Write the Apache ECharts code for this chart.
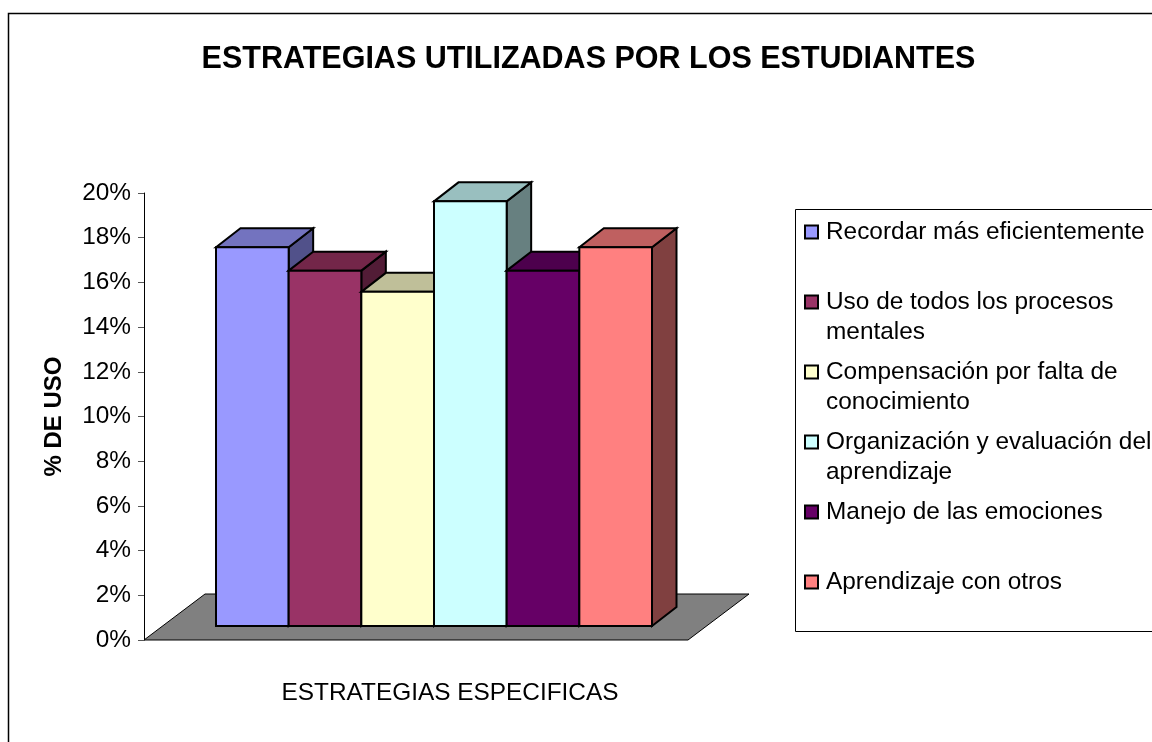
<!DOCTYPE html>
<html><head><meta charset="utf-8">
<style>html,body{margin:0;padding:0;background:#fff}#c{width:1152px;height:742px}</style>
<script src="https://cdn.jsdelivr.net/npm/echarts@6/dist/echarts.min.js"></script>
</head><body><div id="c"></div>
<script>
const chartTitle = 'ESTRATEGIAS UTILIZADAS POR LOS ESTUDIANTES';
const xTitle = 'ESTRATEGIAS ESPECIFICAS';
const yTitle = '% DE USO';
const categories = [
  'Recordar más eficientemente',
  'Uso de todos los procesos\nmentales',
  'Compensación por falta de\nconocimiento',
  'Organización y evaluación del\naprendizaje',
  'Manejo de las emociones',
  'Aprendizaje con otros'
];
const values = [16.95, 15.9, 14.95, 19, 15.9, 16.95];
const frontColors = ['#9999FF', '#993366', '#FFFFCC', '#CCFFFF', '#660066', '#FF8080'];
const topColors   = ['#7373BF', '#732649', '#BFBF99', '#99BFBF', '#4D004D', '#BF6060'];
const sideColors  = ['#51518A', '#521C36', '#8A8A6E', '#678080', '#360036', '#804040'];

const FONT = '"Liberation Sans", Arial, sans-serif';
const DX = 24.5, DY = 19, LIFT = 14;   // oblique projection of the depth axis
const LINE = {stroke: '#000', lineWidth: 2};

function poly(points, fill, line) {
  return {type: 'polygon', shape: {points}, style: Object.assign({fill}, line)};
}

function renderBar(params, api) {
  const i = api.value(0), v = api.value(1);
  const c = api.coord([i, v]), b = api.coord([i, 0]);
  const w = api.size([1, 0])[0];
  const l = c[0] - w / 2, r = c[0] + w / 2, t = c[1] - LIFT, bt = b[1] - LIFT;
  const k = params.seriesIndex - 1;
  return {type: 'group', children: [
    poly([[r, t], [r + DX, t - DY], [r + DX, bt - DY], [r, bt]], sideColors[k], LINE),
    poly([[l, t], [l + DX, t - DY], [r + DX, t - DY], [r, t]], topColors[k], LINE),
    poly([[l, t], [r, t], [r, bt], [l, bt]], frontColors[k], LINE)
  ]};
}

function renderFloor(params, api) {
  const g = params.coordSys;
  const bottom = g.y + g.height, x0 = g.x - 72, x1 = g.x + g.width + 36;
  return poly([[x0, bottom], [x1, bottom], [x1 + 61, bottom - 46], [x0 + 61, bottom - 46]], '#808080',
    {stroke: '#000', lineWidth: 1});
}

const series = [{type: 'custom', silent: true, renderItem: renderFloor, data: [[0, 0]], z: 1}];
categories.forEach((name, i) => series.push({
  type: 'custom', name, silent: true, renderItem: renderBar,
  itemStyle: {color: frontColors[i]},
  data: [[i, values[i]]], encode: {x: 0, y: 1}, z: 2 + i
}));

const chart = echarts.init(document.getElementById('c'), null, {renderer: 'canvas'});
chart.setOption({
  animation: false,
  backgroundColor: '#fff',
  textStyle: {fontFamily: FONT, color: '#000'},
  title: {
    text: chartTitle, left: 588.5, top: 44, padding: 0, textAlign: 'center',
    textStyle: {fontFamily: FONT, fontSize: 30.5, fontWeight: 'bold', color: '#000'}
  },
  grid: {left: 216, top: 193, width: 436, height: 447, containLabel: false},
  xAxis: {
    type: 'category', data: categories.map((c, i) => i),
    axisLine: {show: false}, axisTick: {show: false}, axisLabel: {show: false},
    splitLine: {show: false},
    name: xTitle, nameLocation: 'middle', nameGap: 41,
    nameTextStyle: {fontFamily: FONT, fontSize: 24.4, color: '#000', padding: [0, 0, 0, 32]}
  },
  yAxis: {
    type: 'value', min: 0, max: 20, interval: 2, offset: 72,
    axisLine: {show: true, lineStyle: {color: '#000', width: 1}},
    axisTick: {show: true, length: 6, lineStyle: {color: '#555', width: 1}},
    axisLabel: {formatter: '{value}%', fontFamily: FONT, fontSize: 24.4, color: '#000', margin: 13, padding: [2, 0, 0, 0]},
    splitLine: {show: false},
    name: yTitle, nameLocation: 'middle', nameGap: 78, nameRotate: 90,
    nameTextStyle: {fontFamily: FONT, fontSize: 24, fontWeight: 'bold', color: '#000'}
  },
  legend: {
    orient: 'vertical', left: 804, top: 187, padding: 0, itemGap: -20,
    itemWidth: 13, itemHeight: 13, selectedMode: false,
    data: categories.map((name, i) => ({
      name, icon: 'rect',
      itemStyle: {color: frontColors[i], borderColor: '#000', borderWidth: 2}
    })),
    formatter: name => '\n' + name + (name.indexOf('\n') < 0 ? '\n ' : ''),
    textStyle: {fontFamily: FONT, fontSize: 24.4, lineHeight: 30, color: '#000', padding: [0, 0, 0, 3]}
  },
  graphic: [
    {type: 'rect', z: -1, silent: true, shape: {x: 8.5, y: 13.5, width: 1300, height: 900},
     style: {fill: 'none', stroke: '#000', lineWidth: 1.5}},
    {type: 'rect', z: -1, silent: true, shape: {x: 795.5, y: 209.5, width: 500, height: 422},
     style: {fill: '#fff', stroke: '#000', lineWidth: 1}}
  ],
  series
});
</script></body></html>
